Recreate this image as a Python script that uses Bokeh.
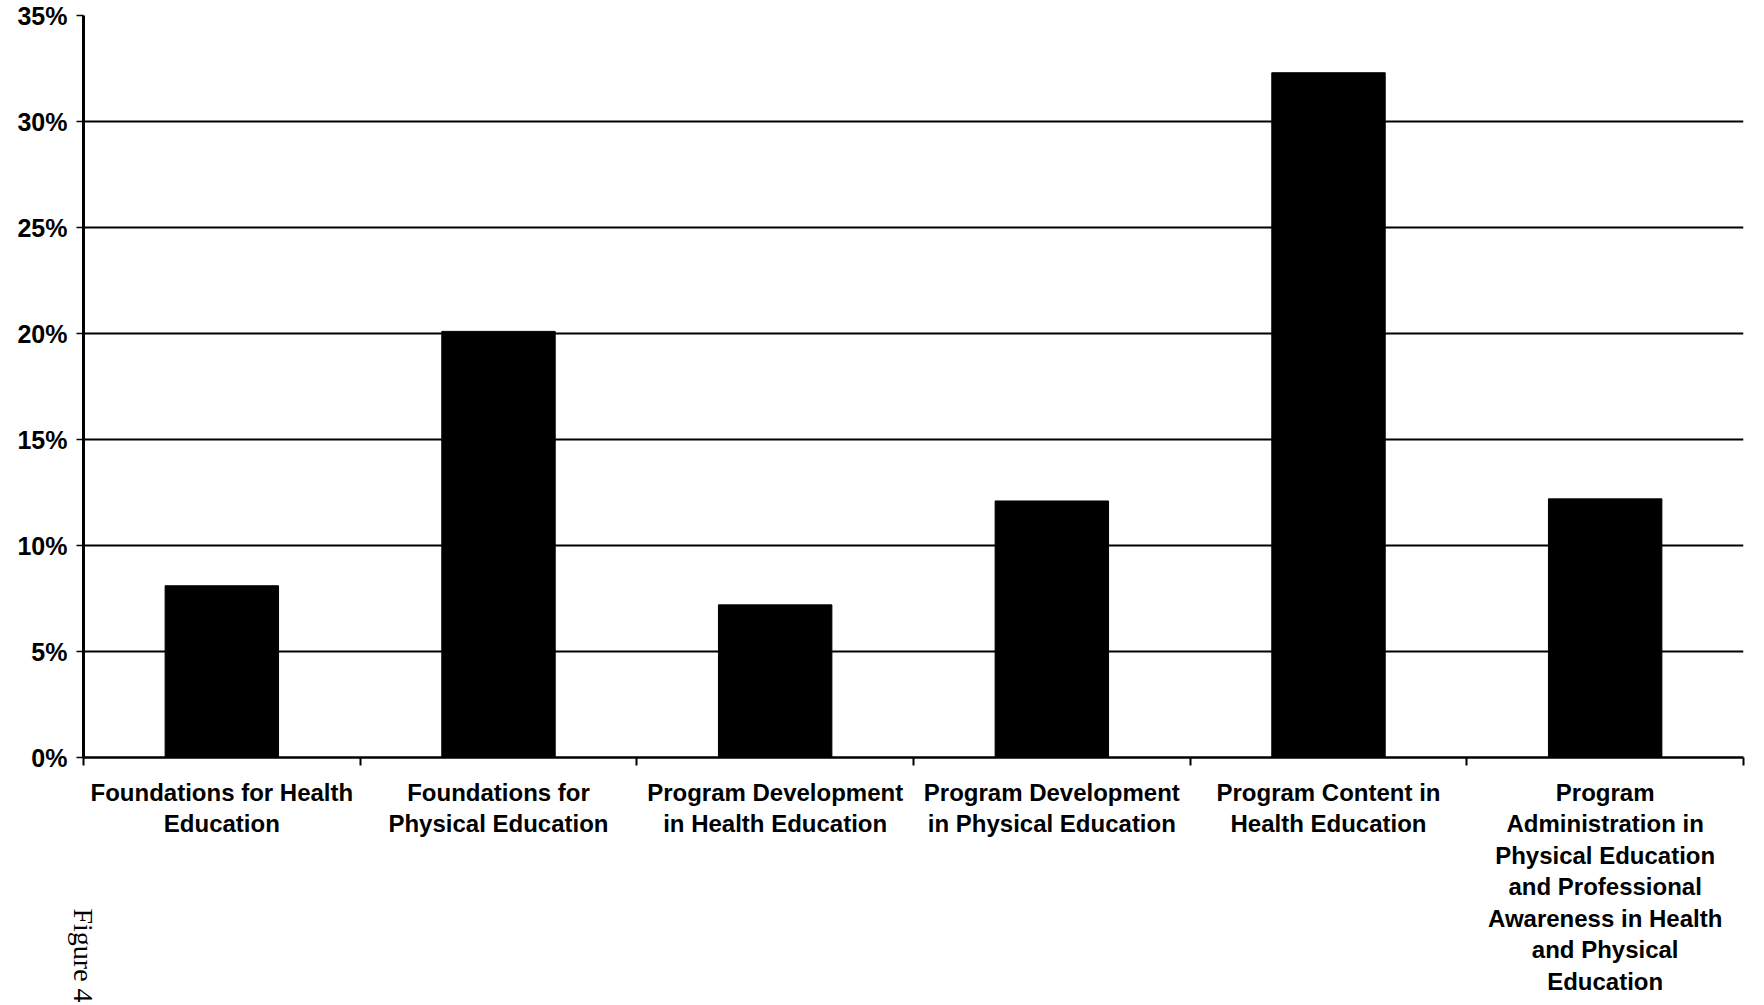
import numpy as np
from bokeh.plotting import figure
from bokeh.models import Range1d, FixedTicker, NumeralTickFormatter, LinearAxis
from bokeh.embed import file_html
from bokeh.resources import INLINE

# Share of items by content area
categories = [
    "Foundations for Health\nEducation",
    "Foundations for\nPhysical Education",
    "Program Development\nin Health Education",
    "Program Development\nin Physical Education",
    "Program Content in\nHealth Education",
    "Program\nAdministration in\nPhysical Education\nand Professional\nAwareness in Health\nand Physical\nEducation",
]
shares = [0.081, 0.201, 0.072, 0.121, 0.323, 0.122]
y_ticks = [0.0, 0.05, 0.10, 0.15, 0.20, 0.25, 0.30, 0.35]
caption = "Figure 4"

centers = np.arange(len(categories)) + 0.5
bounds = list(np.arange(len(categories) + 1).astype(float))

p = figure(
    width=1764, height=1005,
    x_range=Range1d(0, len(categories)), y_range=Range1d(0, 0.35),
    output_backend="svg", toolbar_location=None,
    min_border_left=83, min_border_right=21,
    min_border_top=15, min_border_bottom=248,
)
p.outline_line_color = None
p.background_fill_color = "white"
p.border_fill_color = "white"

p.vbar(x=centers, top=shares, width=0.41, bottom=0,
       fill_color="black", line_color="black")

font = "Liberation Sans"

# x axis: labels under each bar, tick marks on category boundaries
xa = p.xaxis[0]
xa.ticker = FixedTicker(ticks=list(centers), minor_ticks=bounds)
xa.major_label_overrides = {float(c): lab for c, lab in zip(centers, categories)}
xa.major_tick_out = 0
xa.major_tick_in = 0
xa.minor_tick_out = 8
xa.minor_tick_in = 0
xa.minor_tick_line_width = 2
xa.minor_tick_line_color = "black"
xa.axis_line_width = 2.5
xa.axis_line_color = "black"
xa.major_label_text_font = font
xa.major_label_text_font_style = "bold"
xa.major_label_text_font_size = "24px"
xa.major_label_text_color = "black"
xa.major_label_text_line_height = 1.17
xa.major_label_standoff = 13
xa.major_label_orientation = "horizontal"

# caption running down the left margin, below the category labels
cap = LinearAxis(
    ticker=FixedTicker(ticks=[0.0]),
    major_label_overrides={0.0: caption},
    major_label_orientation=-np.pi / 2,
    major_label_standoff=-90,
    major_label_text_font="Liberation Serif",
    major_label_text_font_size="28px",
    major_label_text_color="black",
    axis_line_color=None,
    major_tick_line_color=None,
    minor_tick_line_color=None,
    major_tick_out=0, major_tick_in=0,
    minor_tick_out=0, minor_tick_in=0,
)
p.add_layout(cap, "below")

# y axis: percentages
ya = p.yaxis[0]
ya.ticker = FixedTicker(ticks=y_ticks)
ya.formatter = NumeralTickFormatter(format="0%")
ya.major_tick_out = 7
ya.major_tick_in = 0
ya.major_tick_line_width = 1.5
ya.minor_tick_out = 0
ya.minor_tick_in = 0
ya.axis_line_width = 3
ya.axis_line_color = "black"
ya.major_label_text_font = font
ya.major_label_text_font_style = "bold"
ya.major_label_text_font_size = "25px"
ya.major_label_text_color = "black"
ya.major_label_standoff = 9

p.xgrid.grid_line_color = None
p.ygrid.ticker = FixedTicker(ticks=y_ticks)
p.ygrid.grid_line_color = "black"
p.ygrid.grid_line_width = 2

open("out.html", "w").write(file_html(p, INLINE))
